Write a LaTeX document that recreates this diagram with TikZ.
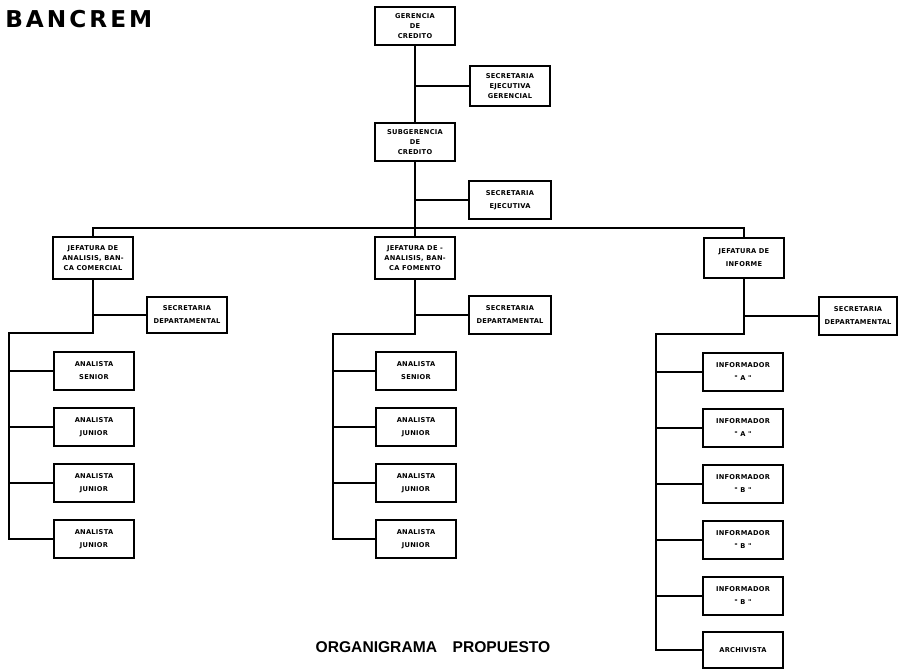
\documentclass[tikz,border=0pt]{standalone}
\usepackage{fontspec}
\setmainfont{Liberation Sans}
\newfontfamily\boxfont[LetterSpace=4]{DejaVu Sans}
\newfontfamily\titlefont[LetterSpace=13]{DejaVu Sans}
\tikzset{
  orgbox/.style={draw, line width=1.4pt, inner sep=0pt, minimum width=60pt,
    minimum height=28.5pt, align=center,
    font=\boxfont\bfseries\fontsize{5}{7.5}\selectfont},
  twoline/.style={font=\boxfont\bfseries\fontsize{5}{9.75}\selectfont},
  link/.style={line width=1.4pt}
}
\begin{document}
\begin{tikzpicture}[x=0.75pt,y=-0.75pt]
\useasboundingbox (0,0) rectangle (898,669);
% titles
\node[anchor=base west, inner sep=0pt, font=\titlefont\bfseries\fontsize{17.4}{20}\selectfont] (title) at (5,27) {BANCREM};
\node[anchor=base, inner sep=0pt, font=\bfseries\fontsize{11.7}{14}\selectfont] (foot) at (433,652) {ORGANIGRAMA\quad PROPUESTO};
% top chain
\node[orgbox] (ger) at (415,26) {GERENCIA\\DE\\CREDITO};
\node[orgbox, minimum height=30pt] (secger) at (510,86) {SECRETARIA\\EJECUTIVA\\GERENCIAL};
\node[orgbox] (sub) at (415,142) {SUBGERENCIA\\DE\\CREDITO};
\node[orgbox, twoline, minimum width=61.5pt] (secej) at (510,200) {SECRETARIA\\EJECUTIVA};
% jefaturas
\node[orgbox, minimum height=31.5pt] (jc) at (93,258) {JEFATURA DE\\ANALISIS, BAN-\\CA COMERCIAL};
\node[orgbox, minimum height=31.5pt] (jf) at (415,258) {JEFATURA DE -\\ANALISIS, BAN-\\CA FOMENTO};
\node[orgbox, twoline, minimum height=30pt] (ji) at (744,258) {JEFATURA DE\\INFORME};
% secretarias departamentales
\node[orgbox, twoline, minimum height=27pt] (sd1) at (187,315) {SECRETARIA\\DEPARTAMENTAL};
\node[orgbox, twoline, minimum width=61.5pt] (sd2) at (510,315) {SECRETARIA\\DEPARTAMENTAL};
\node[orgbox, twoline, minimum width=58.5pt] (sd3) at (858,316) {SECRETARIA\\DEPARTAMENTAL};
% left column
\node[orgbox, twoline] (a1) at (94,371) {ANALISTA\\SENIOR};
\node[orgbox, twoline] (a2) at (94,427) {ANALISTA\\JUNIOR};
\node[orgbox, twoline] (a3) at (94,483) {ANALISTA\\JUNIOR};
\node[orgbox, twoline] (a4) at (94,539) {ANALISTA\\JUNIOR};
% middle column
\node[orgbox, twoline] (b1) at (416,371) {ANALISTA\\SENIOR};
\node[orgbox, twoline] (b2) at (416,427) {ANALISTA\\JUNIOR};
\node[orgbox, twoline] (b3) at (416,483) {ANALISTA\\JUNIOR};
\node[orgbox, twoline] (b4) at (416,539) {ANALISTA\\JUNIOR};
% right column
\node[orgbox, twoline] (i1) at (743,372) {INFORMADOR\\\textquotedbl\ A \textquotedbl};
\node[orgbox, twoline] (i2) at (743,428) {INFORMADOR\\\textquotedbl\ A \textquotedbl};
\node[orgbox, twoline] (i3) at (743,484) {INFORMADOR\\\textquotedbl\ B \textquotedbl};
\node[orgbox, twoline] (i4) at (743,540) {INFORMADOR\\\textquotedbl\ B \textquotedbl};
\node[orgbox, twoline] (i5) at (743,596) {INFORMADOR\\\textquotedbl\ B \textquotedbl};
\node[orgbox, twoline, minimum height=27pt] (i6) at (743,650) {ARCHIVISTA};
% top connectors
\draw[link] (ger.south) -- (ger.south |- sub.north);
\draw[link] (ger.south |- secger.west) -- (secger.west);
\draw[link] (sub.south) -- (sub.south |- jf.north);
\draw[link] (sub.south |- secej.west) -- (secej.west);
\coordinate (bus) at (415,228);
\draw[link] (jc.north) |- (bus) -| (ji.north);
% left connectors
\coordinate (lc) at (9,333);
\draw[link] (jc.south) |- (lc) |- (a4.west);
\draw[link] (jc.south |- sd1.west) -- (sd1.west);
\foreach \n in {a1,a2,a3} \draw[link] (lc |- \n.west) -- (\n.west);
% middle connectors
\coordinate (mc) at (333,334);
\draw[link] (jf.south) |- (mc) |- (b4.west);
\draw[link] (jf.south |- sd2.west) -- (sd2.west);
\foreach \n in {b1,b2,b3} \draw[link] (mc |- \n.west) -- (\n.west);
% right connectors
\coordinate (rc) at (656,334);
\draw[link] (ji.south) |- (rc) |- (i6.west);
\draw[link] (ji.south |- sd3.west) -- (sd3.west);
\foreach \n in {i1,i2,i3,i4,i5} \draw[link] (rc |- \n.west) -- (\n.west);
\end{tikzpicture}
\end{document}
